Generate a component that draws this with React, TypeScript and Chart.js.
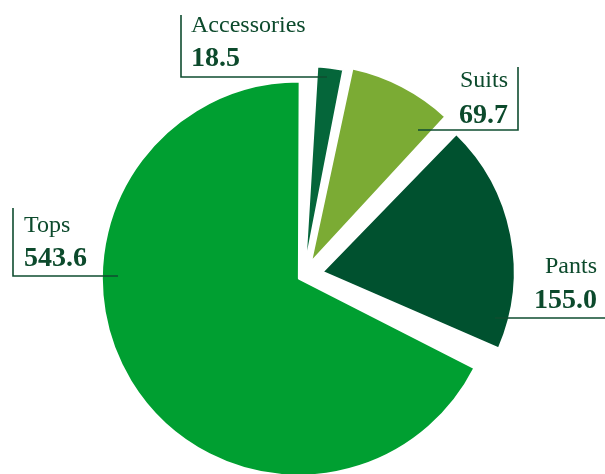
import React, { useEffect, useRef } from 'react';
import { Chart, ArcElement, PieController } from 'chart.js';

Chart.register(ArcElement, PieController);

// ---- data ----
const categories = ['Accessories', 'Suits', 'Pants', 'Tops'];
const sales = [18.5, 69.7, 155.0, 543.6];

// ---- styles ----
const sliceColors = ['#05663a', '#7bab34', '#00512f', '#009f31'];
const sliceOffsets = [40, 60, 76, 24];
const textColor = '#0c4a2c';
const lineColor = '#0f4d30';

type LabelLayout = {
  align: 'left' | 'right';
  lineX: number;
  textX: number;
  nameY: number;
  valueY: number;
  lineTop: number;
  lineY: number;
  endX: number;
};

const labelLayout: LabelLayout[] = [
  { align: 'left', lineX: 181, textX: 191, nameY: 32, valueY: 66, lineTop: 15, lineY: 77, endX: 327 },
  { align: 'right', lineX: 518, textX: 508, nameY: 87, valueY: 123, lineTop: 67, lineY: 130, endX: 418 },
  { align: 'right', lineX: 607, textX: 597, nameY: 273, valueY: 308, lineTop: 255, lineY: 318, endX: 495 },
  { align: 'left', lineX: 13, textX: 24, nameY: 232, valueY: 266, lineTop: 208, lineY: 276, endX: 118 },
];

const calloutPlugin = {
  id: 'callouts',
  afterDatasetsDraw(chart: any) {
    const ctx: CanvasRenderingContext2D = chart.ctx;
    const labels = chart.data.labels as string[];
    const values = chart.data.datasets[0].data as number[];
    ctx.save();
    labelLayout.forEach((l, i) => {
      ctx.strokeStyle = lineColor;
      ctx.lineWidth = 1.6;
      ctx.beginPath();
      ctx.moveTo(l.lineX, l.lineTop);
      ctx.lineTo(l.lineX, l.lineY);
      ctx.lineTo(l.endX, l.lineY);
      ctx.stroke();
      ctx.fillStyle = textColor;
      ctx.textAlign = l.align;
      ctx.textBaseline = 'alphabetic';
      ctx.font = '24px "Liberation Serif", "Times New Roman", serif';
      ctx.fillText(labels[i], l.textX, l.nameY);
      ctx.font = 'bold 28px "Liberation Serif", "Times New Roman", serif';
      ctx.fillText(values[i].toFixed(1), l.textX, l.valueY);
    });
    ctx.restore();
  },
};

export default function App() {
  const canvasRef = useRef<HTMLCanvasElement | null>(null);

  useEffect(() => {
    if (!canvasRef.current) return;
    const chart = new Chart(canvasRef.current, {
      type: 'pie',
      data: {
        labels: categories,
        datasets: [
          {
            data: sales,
            backgroundColor: sliceColors,
            offset: sliceOffsets,
            borderColor: '#ffffff',
            borderWidth: 2,
            spacing: 4,
            clip: false,
          } as any,
        ],
      },
      options: {
        animation: false,
        responsive: true,
        maintainAspectRatio: false,
        rotation: 3,
        radius: 189,
        layout: { padding: { left: 3, right: 0, top: 77, bottom: 0 } },
        events: [],
        plugins: {
          legend: { display: false },
          tooltip: { enabled: false },
        },
      } as any,
      plugins: [calloutPlugin],
    });
    return () => chart.destroy();
  }, []);

  return (
    <div style={{ position: 'fixed', left: 0, top: 0, width: 605, height: 474, background: '#ffffff' }}>
      <canvas ref={canvasRef} />
    </div>
  );
}
